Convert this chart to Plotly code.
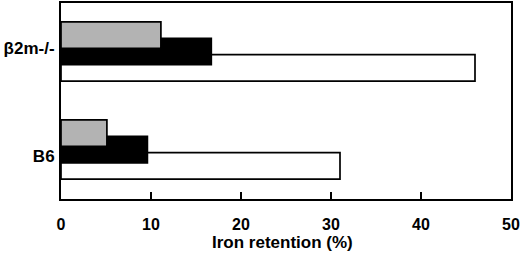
import plotly.graph_objects as go

groups = ["B6", "β2m-/-"]
group_pos = [0, 1]
label_pos = [-0.07, 1.04]
white_vals = [31.0, 46.0]
black_vals = [9.6, 16.7]
gray_vals = [5.1, 11.1]

x_ticks = [0, 10, 20, 30, 40, 50]
x_title = "Iron retention (%)"

fig = go.Figure()
series = [
    ("white", white_vals, "#ffffff", -0.166),
    ("black", black_vals, "#000000", 0.0),
    ("gray", gray_vals, "#b3b3b3", 0.168),
]
for name, vals, color, off in series:
    fig.add_trace(go.Bar(
        x=vals, y=[p + off for p in group_pos], orientation="h",
        width=0.27, marker=dict(color=color, line=dict(color="black", width=1.7)),
        name=name, showlegend=False,
    ))

font = dict(family="Liberation Sans, Arial, sans-serif", color="black", weight="bold")
fig.update_layout(
    width=520, height=254,
    margin=dict(l=61, r=9, t=3, b=55),
    barmode="overlay",
    plot_bgcolor="white", paper_bgcolor="white",
    xaxis=dict(
        range=[0, 50], tickvals=x_ticks, ticks="inside", ticklen=7, tickwidth=2,
        tickcolor="black", showline=True, linecolor="black", linewidth=2, mirror=True,
        showgrid=False, zeroline=False, tickfont=dict(size=16, **font),
        ticklabelstandoff=10, automargin=False,
    ),
    yaxis=dict(
        range=[-0.504, 1.495], tickvals=label_pos, ticktext=groups, ticks="",
        showline=True, linecolor="black", linewidth=2, mirror=True,
        showgrid=False, zeroline=False, tickfont=dict(size=17, **font),
        ticklabelstandoff=1, automargin=False,
    ),
)
fig.add_annotation(
    text=x_title, xref="paper", yref="paper", x=0.5, y=0,
    xanchor="center", yanchor="middle", xshift=-4, yshift=-43,
    showarrow=False, font=dict(size=17, **font),
)
fig.write_html("out.html", config={"displayModeBar": False},
               post_script="document.body.style.margin='0';")
